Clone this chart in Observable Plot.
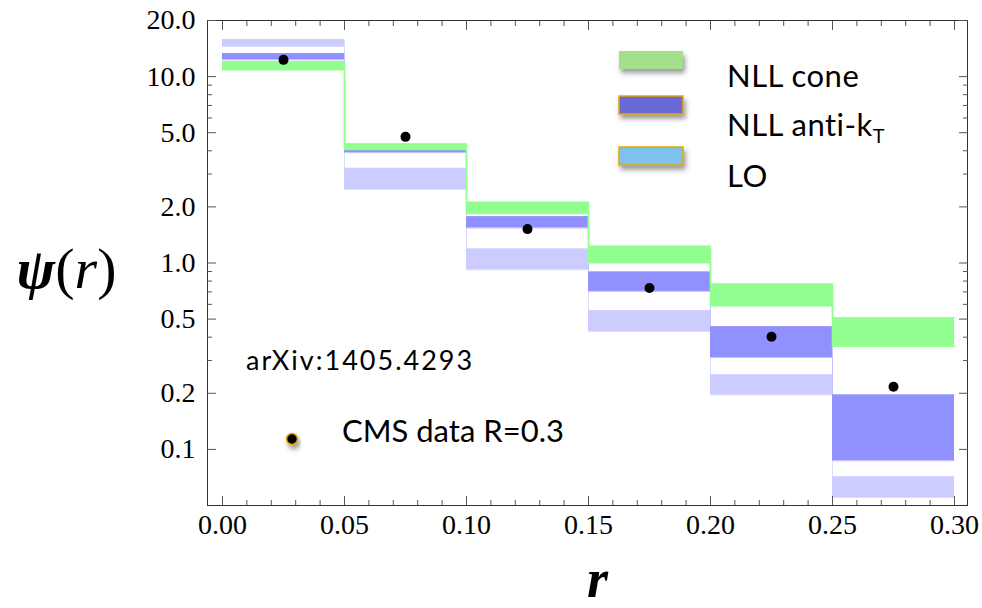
<!DOCTYPE html>
<html><head><meta charset="utf-8">
<script src="https://cdn.jsdelivr.net/npm/d3@7"></script>
<script src="https://cdn.jsdelivr.net/npm/@observablehq/plot@0.6"></script>
<style>body{margin:0;background:#fff} #chart{width:982px;height:608px}</style>
</head><body><div id="chart"></div>
<script>
// ---- data ----
const binStart = [0.00, 0.05, 0.10, 0.15, 0.20, 0.25];
const binEnd   = [0.05, 0.10, 0.15, 0.20, 0.25, 0.30];
const rMid     = [0.025, 0.075, 0.125, 0.175, 0.225, 0.275];
const cmsData  = [12.3, 4.75, 1.52, 0.734, 0.402, 0.217];
const coneHi   = [12.0, 4.35, 2.115, 1.228, 0.771, 0.507];
const coneLo   = [10.9, 4.06, 1.846, 1.004, 0.590, 0.358];
const aktHi    = [13.3, 4.06, 1.772, 0.895, 0.455, 0.196];
const aktLo    = [12.3, 3.91, 1.541, 0.704, 0.311, 0.0869];
const loHi     = [15.8, 3.22, 1.189, 0.555, 0.251, 0.0713];
const loLo     = [14.5, 2.48, 0.920, 0.429, 0.196, 0.0552];
const xTicks = [0, 0.05, 0.10, 0.15, 0.20, 0.25, 0.30];
const xMinor = d3.range(0, 0.3001, 0.01).filter(v => Math.abs(v*20 - Math.round(v*20)) > 1e-6);
const yTicks = [0.1, 0.2, 0.5, 1, 2, 5, 10, 20];
const yMinor = [0.3, 0.4, 0.6, 0.7, 0.8, 0.9, 3, 4, 6, 7, 8, 9];
const legendLabels = ["NLL cone", "NLL anti-k", "LO"];
const legendSub = ["", "T", ""];
const legendFill = ["#a3e08c", "#6b6bd6", "#7cc2ea"];
const legendStroke = ["none", "#e8a800", "#e8a800"];
const noteText = "arXiv:1405.4293";
const cmsLabel = "CMS data R=0.3";
const yLabel = "ψ(r)";
const xLabel = "r";

const idx = d3.range(binStart.length);
const edges = [...binStart, binEnd[binEnd.length - 1]];
const step = v => edges.map((x, i) => ({x, y: v[Math.min(i, v.length - 1)]}));
const blank = () => "";
const tk = "#555";

function frameTicks(vals, len, dim) {
  const o = {ticks: vals, tickSize: len, tickFormat: blank, label: null, stroke: tk, strokeWidth: 1};
  if (dim === "x") return [
    Plot.axisX({...o, anchor: "bottom", dy: -len}),
    Plot.axisX({...o, anchor: "top", dy: len})
  ];
  return [
    Plot.axisY({...o, anchor: "left", dx: len}),
    Plot.axisY({...o, anchor: "right", dx: -len})
  ];
}

const band = (lo, hi, fill) => Plot.rect(idx, {x1: i => binStart[i], x2: i => binEnd[i], y1: i => lo[i], y2: i => hi[i], fill});
const sline = (v, stroke, w) => Plot.line(step(v), {x: "x", y: "y", curve: "step-after", stroke, strokeWidth: w});
const fmtX = d3.format(".2f"), fmtY = d3.format(".1f");

const svg = Plot.plot({
  width: 982, height: 608,
  marginLeft: 207, marginRight: 15, marginTop: 20, marginBottom: 103,
  x: {domain: [0, 0.3], range: [222, 954]},
  y: {type: "log", domain: [0.05, 20]},
  style: {background: "#fff"},
  marks: [
    sline(loHi, "#dcdcff", 1), sline(loLo, "#dcdcff", 1),
    sline(aktHi, "#c4c4ff", 1), sline(aktLo, "#c4c4ff", 1),
    band(loLo, loHi, "#ccccff"),
    band(aktLo, aktHi, "#9090ff"),
    band(coneLo, coneHi, "#90ff90"),
    sline(coneHi, "#90ff90", 1.5), sline(coneLo, "#90ff90", 1.5),
    Plot.dot(idx, {x: i => rMid[i], y: i => cmsData[i], r: 5, fill: "#000"}),
    Plot.frame({stroke: "#333", strokeWidth: 1}),
    ...frameTicks(xTicks, 9, "x"), ...frameTicks(xMinor, 5, "x"),
    ...frameTicks(yTicks, 9, "y"), ...frameTicks(yMinor, 5, "y"),
    Plot.text(xTicks, {x: d => d, text: d => fmtX(d), frameAnchor: "bottom", dy: 9, lineAnchor: "top",
      fontSize: 28, fontFamily: "Liberation Serif", fill: "#000"}),
    Plot.text(yTicks, {y: d => d, text: d => fmtY(d), frameAnchor: "left", dx: -12, textAnchor: "end",
      fontSize: 28, fontFamily: "Liberation Serif", fill: "#000"}),
    Plot.text([yLabel], {text: d => d, frameAnchor: "left", dx: -141, dy: 25, lineAnchor: "bottom", fontSize: 58,
      fontFamily: "Liberation Serif", textAnchor: "middle", fill: "#000"}),
    Plot.text([xLabel], {text: d => d, frameAnchor: "bottom", dx: 10, dy: 91, lineAnchor: "bottom", fontSize: 54,
      fontStyle: "italic", fontWeight: "bold", fontFamily: "Liberation Serif", textAnchor: "middle", fill: "#000"})
  ]
});
document.getElementById("chart").appendChild(svg);

// ---- styling of y label: bold psi, upright parentheses, italic r ----
const s = d3.select(svg);
s.selectAll("text").filter(function() { return this.textContent === yLabel; }).each(function() {
  const t = d3.select(this); t.text(null);
  const parts = [[yLabel[0], "italic", "bold"], [yLabel[1], "normal", "normal"], [yLabel[2], "italic", "normal"], [yLabel[3], "normal", "normal"]];
  parts.forEach(([c, st, w]) => t.append("tspan").attr("font-style", st).attr("font-weight", w).text(c));
});

// ---- legend & annotations ----
const defs = s.append("defs");
const f = defs.append("filter").attr("id", "shadow").attr("x", "-30%").attr("y", "-50%").attr("width", "160%").attr("height", "250%");
f.append("feDropShadow").attr("dx", 2).attr("dy", 4).attr("stdDeviation", 2.5).attr("flood-color", "#555").attr("flood-opacity", 0.6);
const lg = s.append("g").attr("font-family", "Lato, 'Open Sans', sans-serif").attr("text-anchor", "start");
const swY = [51, 96, 147], txY = [87, 136, 187];
legendLabels.forEach((lab, i) => {
  lg.append("rect").attr("x", 619).attr("y", swY[i]).attr("width", 64).attr("height", 18)
    .attr("fill", legendFill[i]).attr("stroke", legendStroke[i]).attr("stroke-width", 1.5)
    .attr("filter", "url(#shadow)");
  const t = lg.append("text").attr("x", 727).attr("y", txY[i]).attr("font-size", 31).attr("letter-spacing", 0.5).attr("fill", "#000").text(lab);
  if (legendSub[i]) t.append("tspan").attr("font-size", 20).attr("dy", 7).text(legendSub[i]);
});
lg.append("text").attr("x", 246).attr("y", 370).attr("font-size", 27).attr("letter-spacing", 2).attr("fill", "#000").text(noteText);
lg.append("circle").attr("cx", 292).attr("cy", 439).attr("r", 5.5).attr("fill", "#000")
  .attr("stroke", "#e8a800").attr("stroke-width", 1.5).attr("filter", "url(#shadow)");
lg.append("text").attr("x", 342).attr("y", 442).attr("font-size", 31).attr("fill", "#000").text(cmsLabel);
</script></body></html>
